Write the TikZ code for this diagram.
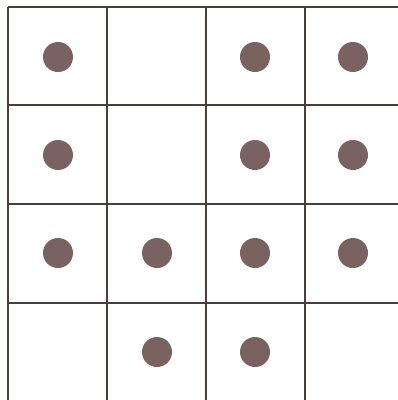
\documentclass[tikz,border=0pt]{standalone}
\definecolor{gridc}{HTML}{4A3E3C}
\definecolor{dotc}{HTML}{7A6260}
\begin{document}
\begin{tikzpicture}[x=1pt,y=-1pt,
  gridline/.style={draw=gridc,line width=2pt},
  dotnode/.style={circle,fill=dotc,minimum size=30pt,inner sep=0pt}]
\useasboundingbox (0,0) rectangle (398,400);
\fill[white] (0,0) rectangle (398,400);
\foreach \x in {8,107,206,305} \draw[gridline] (\x,7) -- (\x,400);
\foreach \y in {7,105,204,303} \draw[gridline] (8,\y) -- (398,\y);
\node[dotnode] (d11) at (58,57) {};
\node[dotnode] (d13) at (255,57) {};
\node[dotnode] (d14) at (353,57) {};
\node[dotnode] (d21) at (58,155) {};
\node[dotnode] (d23) at (255,155) {};
\node[dotnode] (d24) at (353,155) {};
\node[dotnode] (d31) at (58,253) {};
\node[dotnode] (d32) at (157,253) {};
\node[dotnode] (d33) at (255,253) {};
\node[dotnode] (d34) at (353,253) {};
\node[dotnode] (d42) at (157,352) {};
\node[dotnode] (d43) at (255,352) {};
\end{tikzpicture}
\end{document}
